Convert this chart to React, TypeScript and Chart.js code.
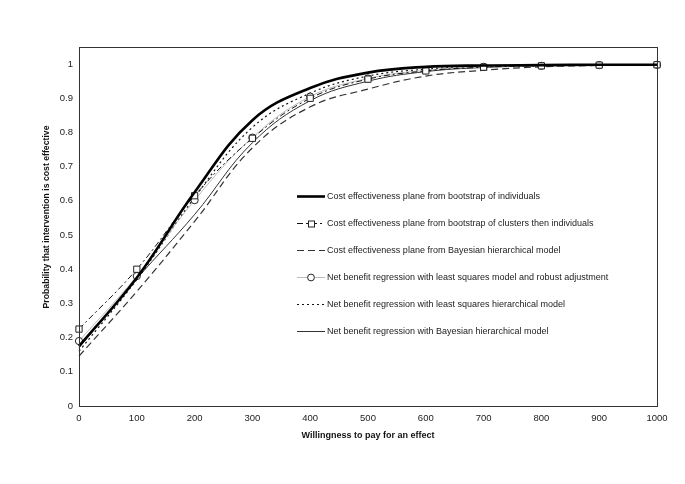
import React, { useEffect, useRef } from "react";
import { Chart, registerables } from "chart.js";

Chart.register(...registerables);

const wtp = [0, 100, 200, 300, 400, 500, 600, 700, 800, 900, 1000];

const bootIndividuals = [0.175, 0.375, 0.625, 0.836, 0.93, 0.975, 0.992, 0.996, 0.997, 0.998, 0.998];
const bootClusters = [0.225, 0.4, 0.615, 0.783, 0.9, 0.956, 0.98, 0.991, 0.995, 0.997, 0.998];
const bayesCEPlane = [0.146, 0.335, 0.54, 0.755, 0.875, 0.927, 0.965, 0.982, 0.992, 0.996, 0.998];
const nbrRobust = [0.19, 0.38, 0.602, 0.785, 0.905, 0.958, 0.982, 0.992, 0.995, 0.997, 0.998];
const nbrLSHier = [0.16, 0.37, 0.61, 0.815, 0.915, 0.965, 0.985, 0.993, 0.996, 0.997, 0.998];
const nbrBayesHier = [0.17, 0.372, 0.56, 0.77, 0.893, 0.95, 0.978, 0.99, 0.995, 0.997, 0.998];

const seriesLabels = [
  "Cost effectiveness plane from bootstrap of individuals",
  "Cost effectiveness plane from bootstrap of clusters then individuals",
  "Cost effectiveness plane from Bayesian hierarchical model",
  "Net benefit regression with least squares model and robust adjustment",
  "Net benefit regression with least squares hierarchical model",
  "Net benefit regression with Bayesian hierarchical model",
];

const xTitle = "Willingness to pay for an effect";
const yTitle = "Probability that intervention is cost effective";

const FONT = "'Liberation Sans', Arial, sans-serif";

const legendPlugin = {
  id: "customLegend",
  afterDraw(chart: any) {
    const ctx = chart.ctx;
    const area = chart.chartArea;
    ctx.save();
    // plot frame
    ctx.strokeStyle = "#333";
    ctx.lineWidth = 1;
    ctx.strokeRect(Math.round(area.left) + 0.5, Math.round(area.top) + 0.5, Math.round(area.right - area.left), Math.round(area.bottom - area.top));

    // y axis title
    ctx.save();
    ctx.translate(46.5, 217);
    ctx.rotate(-Math.PI / 2);
    ctx.fillStyle = "#111";
    ctx.font = `bold 8.7px ${FONT}`;
    ctx.textAlign = "center";
    ctx.textBaseline = "middle";
    ctx.fillText(yTitle, 0, 0);
    ctx.restore();

    const x0 = 297;
    const x1 = 325;
    const startY = 196.5;
    const step = 27;
    chart.data.datasets.forEach((ds: any, i: number) => {
      const y = startY + i * step;
      ctx.save();
      ctx.beginPath();
      ctx.strokeStyle = ds.borderColor;
      ctx.lineWidth = ds.borderWidth;
      ctx.setLineDash(ds.borderDash || []);
      ctx.moveTo(x0, y);
      ctx.lineTo(x1, y);
      ctx.stroke();
      ctx.setLineDash([]);
      if (ds.legendMarker === "rect") {
        ctx.fillStyle = "#fff";
        ctx.strokeStyle = "#222";
        ctx.lineWidth = 1;
        ctx.fillRect(308, y - 3, 6, 6);
        ctx.strokeRect(308.5, y - 2.5, 6, 6);
      } else if (ds.legendMarker === "circle") {
        ctx.fillStyle = "#fff";
        ctx.strokeStyle = "#222";
        ctx.lineWidth = 1;
        ctx.beginPath();
        ctx.arc(311, y, 3.4, 0, Math.PI * 2);
        ctx.fill();
        ctx.stroke();
      }
      ctx.restore();
      ctx.fillStyle = "#222";
      ctx.font = `9px ${FONT}`;
      ctx.textBaseline = "middle";
      ctx.textAlign = "left";
      ctx.fillText(ds.label, x1 + 2, y);
    });
    ctx.restore();
  },
};

export default function App() {
  const ref = useRef<HTMLCanvasElement | null>(null);

  useEffect(() => {
    if (!ref.current) return;
    const pts = (arr: number[]) => arr.map((v, i) => ({ x: wtp[i], y: v }));
    const common = { tension: 0.4, clip: false as any };
    const chart = new Chart(ref.current, {
      type: "line",
      data: {
        datasets: [
          {
            label: seriesLabels[0],
            data: pts(bootIndividuals),
            borderColor: "#000",
            borderWidth: 2.6,
            pointRadius: 0,
            ...common,
          },
          {
            label: seriesLabels[1],
            data: pts(bootClusters),
            borderColor: "#111",
            borderWidth: 1,
            borderDash: [6, 3, 2, 3],
            pointStyle: "rect",
            pointRadius: 4.4,
            pointBackgroundColor: "#fff",
            pointBorderColor: "#222",
            pointBorderWidth: 1,
            legendMarker: "rect",
            ...common,
          } as any,
          {
            label: seriesLabels[2],
            data: pts(bayesCEPlane),
            borderColor: "#333",
            borderWidth: 1.2,
            borderDash: [7, 4],
            pointRadius: 0,
            ...common,
          },
          {
            label: seriesLabels[3],
            data: pts(nbrRobust),
            borderColor: "#bbb",
            borderWidth: 1,
            pointStyle: "circle",
            pointRadius: 3.6,
            pointBackgroundColor: "#fff",
            pointBorderColor: "#222",
            pointBorderWidth: 1,
            legendMarker: "circle",
            ...common,
          } as any,
          {
            label: seriesLabels[4],
            data: pts(nbrLSHier),
            borderColor: "#111",
            borderWidth: 1.2,
            borderDash: [2, 3],
            pointRadius: 0,
            ...common,
          },
          {
            label: seriesLabels[5],
            data: pts(nbrBayesHier),
            borderColor: "#333",
            borderWidth: 1,
            pointRadius: 0,
            ...common,
          },
        ],
      },
      options: {
        animation: false,
        responsive: false,
        maintainAspectRatio: false,
        layout: { padding: { left: 0, top: 47, right: 28, bottom: 0 } },
        elements: { line: { capBezierPoints: true } },
        plugins: {
          legend: { display: false },
          tooltip: { enabled: false },
        },
        scales: {
          x: {
            type: "linear",
            min: 0,
            max: 1000,
            grid: { display: false, drawTicks: false },
            border: { display: false },
            ticks: {
              stepSize: 100,
              padding: 7,
              color: "#222",
              font: { family: FONT, size: 9.5 },
              maxRotation: 0,
              callback: (v: any) => String(v),
            },
            title: {
              display: true,
              text: xTitle,
              color: "#111",
              font: { family: FONT, size: 9, weight: "bold" },
              padding: { top: 0, bottom: 43 },
            },
            afterFit: (s: any) => {
              s.height = 78;
            },
          },
          y: {
            type: "linear",
            min: 0,
            max: 1.05,
            grid: { display: false, drawTicks: false },
            border: { display: false },
            ticks: {
              stepSize: 0.1,
              padding: 6,
              color: "#222",
              font: { family: FONT, size: 9.5 },
              callback: (v: any) => String(Math.round(Number(v) * 10) / 10),
            },
            afterBuildTicks: (s: any) => {
              s.ticks = s.ticks.filter((t: any) => t.value <= 1.0001);
            },
            title: { display: false, text: yTitle },
            afterFit: (s: any) => {
              s.width = 79;
            },
          },
        },
      },
      plugins: [legendPlugin],
    } as any);
    return () => chart.destroy();
  }, []);

  return (
    <div style={{ position: "absolute", left: 0, top: 0, width: 685, height: 484, background: "#fff" }}>
      <canvas ref={ref} width={685} height={484} style={{ width: 685, height: 484 }} />
    </div>
  );
}
